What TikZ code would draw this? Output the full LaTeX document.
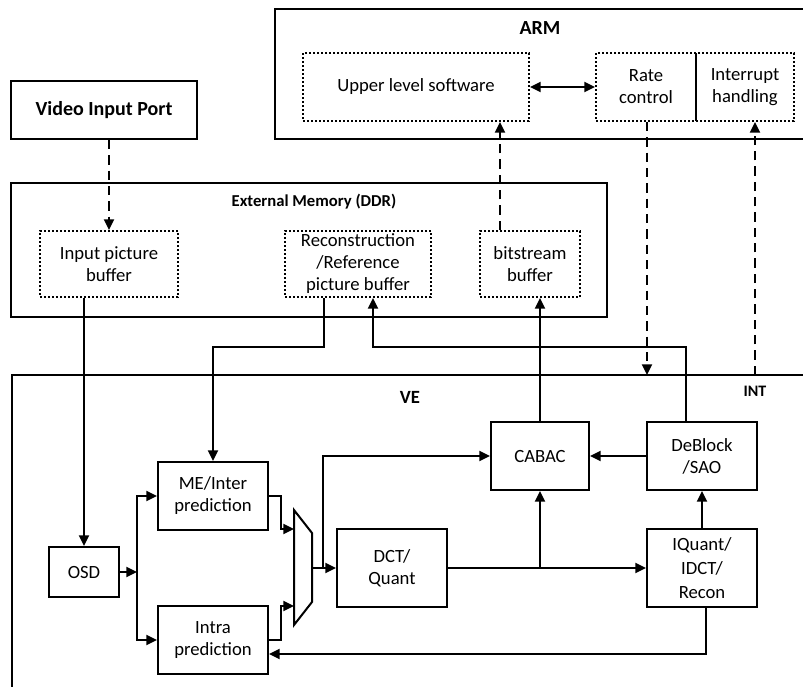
\documentclass[tikz,border=0pt]{standalone}
\usepackage{fontspec}
\setmainfont{Carlito}
\usetikzlibrary{arrows.meta}

\begin{document}
\begin{tikzpicture}[x=0.75pt, y=-0.75pt, line width=1.5pt,
    blk/.style={draw, rectangle, align=center, inner sep=1pt, minimum width=82.5pt, minimum height=51pt, font=\fontsize{14}{16.5}\selectfont},
    buf/.style={blk, dash pattern=on 1.5pt off 1.5pt},
    title/.style={font=\fontsize{15}{18}\selectfont\bfseries},
    tag/.style={font=\fontsize{12.5}{15}\selectfont\bfseries},
    arr/.style={-{Triangle[length=8pt,width=7.5pt]}},
    darr/.style={arr, dash pattern=on 7pt off 4.5pt}]
  \useasboundingbox (0,0) rectangle (803,686);
  \clip (0,0) rectangle (803,686);

  \draw (275,9) rectangle (820,139);
  \draw (11,183) rectangle (607,317);
  \draw (12,375) rectangle (820,700);

  \node[title] (arm) at (540,28) {ARM};
  \node[tag] (ddr) at (314,202) {External Memory (DDR)};
  \node[tag, font=\fontsize{14}{16}\selectfont\bfseries] (ve) at (410,397) {VE};
  \node[tag, font=\fontsize{12}{14}\selectfont\bfseries] (int) at (755,391) {INT};

  \node[blk, title, minimum width=139.5pt, minimum height=43.5pt] (vip) at (104,110) {Video Input Port};

  \node[buf, minimum width=169.5pt] (upper) at (416,87) {Upper level software};
  \node[buf, minimum width=75pt] (rate) at (646,87) {Rate\\control};
  \node[buf, minimum width=73.5pt] (inth) at (745,87) {Interrupt\\handling};

  \node[buf, minimum width=103.5pt, minimum height=49.5pt] (inbuf) at (109,264) {Input picture\\buffer};
  \node[buf, minimum width=109.5pt, minimum height=49.5pt] (recbuf) at (358,264) {Reconstruction\\/Reference\\picture buffer};
  \node[buf, minimum width=75pt, minimum height=49.5pt] (bsbuf) at (530,264) {bitstream\\buffer};

  \node[blk, minimum width=52.5pt, minimum height=37.5pt] (osd) at (84,572) {OSD};
  \node[blk] (me) at (213,496) {ME/Inter\\prediction};
  \node[blk] (intra) at (213,640) {Intra\\prediction};
  \node[blk, minimum height=58.5pt] (dct) at (392,568) {DCT/\\Quant};
  \node[blk, minimum width=73.5pt] (cabac) at (540,456) {CABAC};
  \node[blk] (deblock) at (702,456) {DeBlock\\/SAO};
  \node[blk, minimum height=58.5pt, font=\fontsize{14}{18}\selectfont] (iquant) at (702,568) {IQuant/\\IDCT/\\Recon};

  \draw (294,510) -- (312,533) -- (312,602) -- (294,625) -- cycle;
  \coordinate (muxa) at (294,529);
  \coordinate (muxb) at (294,606);
  \coordinate (muxo) at (312,568);
  \coordinate (fork) at (323,568);
  \coordinate (split) at (137,572);
  \coordinate (refbus) at (324,347);
  \coordinate (recin) at (373,347);
  \coordinate (rcin) at (647,375);
  \coordinate (intout) at (755,375);

  \draw[darr] (vip.south -| inbuf.north) -- (inbuf.north);
  \draw[darr] ([xshift=-22.5pt]bsbuf.north) -- ([xshift=-22.5pt]bsbuf.north |- upper.south);
  \draw[{Triangle[length=8pt,width=7.5pt]}-{Triangle[length=8pt,width=7.5pt]}] (upper.east) -- (rate.west);
  \draw[darr] (rate.south -| rcin) -- (rcin);
  \draw[darr] (intout) -- (intout |- inth.south);

  \draw[arr] (inbuf.south -| osd.north) -- (osd.north);
  \draw[arr] (recbuf.south -| refbus) -- (refbus) -| (me.north);
  \draw[arr] ([xshift=-12pt]deblock.north) |- (recin) -- (recin |- recbuf.south);
  \draw[arr] (cabac.north) -- (cabac.north |- bsbuf.south);

  \draw[arr] (osd.east) -- (split);
  \draw[arr] (split) |- (me.west);
  \draw[arr] (split) |- (intra.west);
  \draw[arr] (me.east) -- ++(9pt,0) |- (muxa);
  \draw[arr] (intra.east) -- ++(9pt,0) |- (muxb);
  \draw[arr] (muxo) -- (dct.west);
  \draw[arr] (fork) |- (cabac.west);
  \draw[arr] (dct.east) -- (iquant.west);
  \draw[arr] (dct.east -| cabac.south) -- (cabac.south);
  \draw[arr] (deblock.west) -- (cabac.east);
  \draw[arr] (iquant.north) -- (deblock.south);
  \draw[arr] ([xshift=3pt]iquant.south) |- ([yshift=-10.5pt]intra.east);
\end{tikzpicture}
\end{document}
